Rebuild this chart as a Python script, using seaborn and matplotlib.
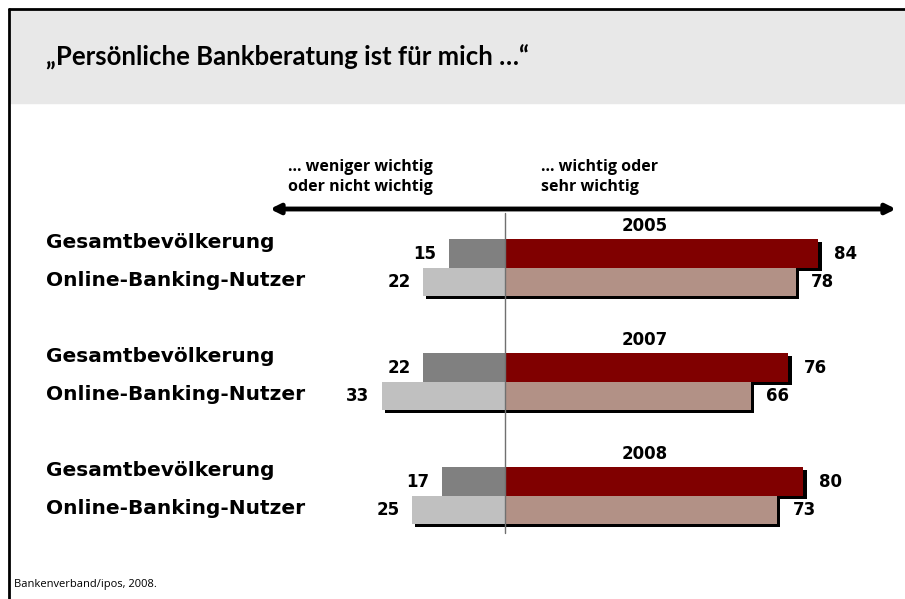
import matplotlib
matplotlib.use('Agg')
import matplotlib.pyplot as plt
import matplotlib.patheffects as pe
from matplotlib.patches import Rectangle
from matplotlib.lines import Line2D
import seaborn as sns
import pandas as pd

years = ['2005', '2007', '2008']
groups = ['Gesamtbevölkerung', 'Online-Banking-Nutzer']
wichtig = [84, 78, 76, 66, 80, 73]      # ... wichtig oder sehr wichtig
weniger = [15, 22, 22, 33, 17, 25]      # ... weniger wichtig oder nicht wichtig

pos_colors = ['#800000', '#b29186']
neg_colors = ['#808080', '#c0c0c0']

W, H = 905, 599
X0, XS = 505, 3.73       # zero line pixel, pixels per percent
Y0, YS = 253.5, 28.5     # first bar centre pixel, pixels per row

rows = []
for i, yr in enumerate(years):
    for j, g in enumerate(groups):
        k = i * 2 + j
        rows.append({'year': yr, 'group': g, 'pos': i * 4 + j,
                     'wichtig': wichtig[k], 'weniger': -weniger[k]})
df = pd.DataFrame(rows)

sns.set_style('white')
plt.rcParams['font.family'] = ['Open Sans', 'DejaVu Sans']
plt.rcParams['text.color'] = 'black'

fig = plt.figure(figsize=(W / 100, H / 100), dpi=100)
ax = fig.add_axes([0, 0, 1, 1])
ax.set_facecolor('none')


def fx(px):
    return px / W


def fy(py):
    return 1 - py / H


# frame and title band
fig.patches.append(Rectangle((fx(10), fy(103)), 1, (103 - 10) / H,
                             transform=fig.transFigure, color='#e8e8e8', zorder=0))
fig.lines.append(Line2D([fx(9), fx(9)], [fy(9), 0], transform=fig.transFigure,
                        color='black', lw=2))
fig.lines.append(Line2D([fx(9), 1], [fy(9), fy(9)], transform=fig.transFigure,
                        color='black', lw=2))
fig.text(fx(46), fy(57), '„Persönliche Bankberatung ist für mich …“',
         fontsize=18.5, fontweight='bold', va='center', ha='left',
         family=['Lato', 'Open Sans', 'DejaVu Sans'])
fig.text(fx(14), fy(584), 'Bankenverband/ipos, 2008.', fontsize=8,
         va='center', ha='left')

sns.barplot(data=df, x='weniger', y='pos', hue='group', orient='h',
            native_scale=True, dodge=False, width=1.0, palette=neg_colors,
            saturation=1, linewidth=0, legend=False, ax=ax)
sns.barplot(data=df, x='wichtig', y='pos', hue='group', orient='h',
            native_scale=True, dodge=False, width=1.0, palette=pos_colors,
            saturation=1, linewidth=0, legend=False, ax=ax)

shadow = [pe.SimplePatchShadow(offset=(2.3, -2.3), shadow_rgbFace='black', alpha=1),
          pe.Normal()]
for c in ax.containers:
    for p in c:
        p.set_path_effects(shadow)

lab_font = dict(fontsize=12, fontweight='bold', family='DejaVu Sans')
for j, c in enumerate(ax.containers):
    if j < 2:
        labels = [str(v) for v in weniger[j::2]]
        ax.bar_label(c, labels=labels, padding=9, **lab_font)
    else:
        labels = [str(v) for v in wichtig[j - 2::2]]
        ax.bar_label(c, labels=labels, padding=11, **lab_font)

ax.set_xlim(-X0 / XS, (W - X0) / XS)
ax.set_ylim((H - Y0) / YS, -Y0 / YS)


def dy(py):
    return (py - Y0) / YS


def dx(px):
    return (px - X0) / XS


ax.plot([0, 0], [dy(213), dy(533)], color='#707070', lw=1, zorder=5)

label_shift = [-0.4, -0.05]
for i, yr in enumerate(years):
    ax.text(dx(645), i * 4 - 0.95, yr, fontsize=12, fontweight='bold',
            ha='center', va='center', family='DejaVu Sans')
    for j, g in enumerate(groups):
        ax.text(dx(46), i * 4 + j + label_shift[j], g, fontsize=14.5,
                fontweight='bold', ha='left', va='center', family='DejaVu Sans')

ax.annotate('', xy=(dx(896), dy(209)), xytext=(dx(270), dy(209)),
            arrowprops=dict(arrowstyle='<|-|>', lw=3.5, color='black',
                            mutation_scale=14, shrinkA=0, shrinkB=0))
ax.text(dx(288), dy(177), '… weniger wichtig\noder nicht wichtig', fontsize=11.5,
        fontweight='bold', ha='left', va='center', linespacing=1.3)
ax.text(dx(541), dy(177), '… wichtig oder\nsehr wichtig', fontsize=11.5,
        fontweight='bold', ha='left', va='center', linespacing=1.3)

ax.set_axis_off()
fig.savefig('out.png', dpi=100)
